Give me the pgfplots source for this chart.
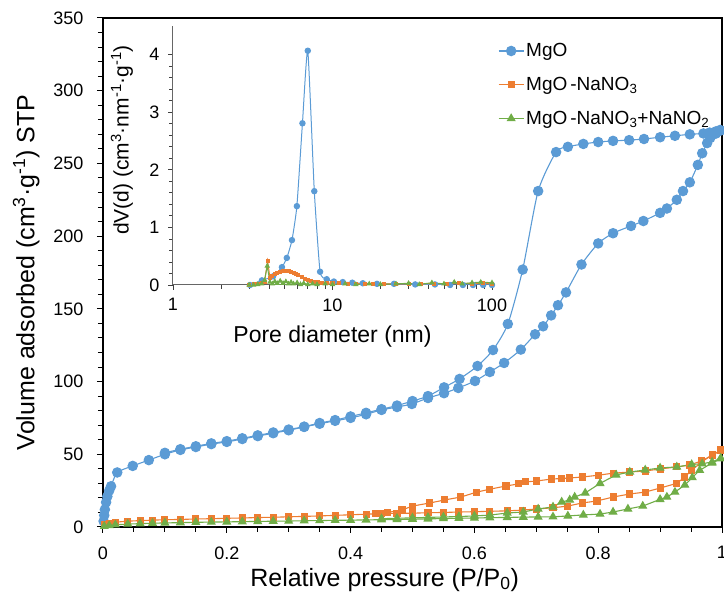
\documentclass[border=0pt]{standalone}
\usepackage{fontspec}
\setmainfont{Liberation Sans}
\usepackage{pgfplots}
\pgfplotsset{compat=1.18}
\definecolor{cblue}{HTML}{5B9BD5}
\definecolor{corange}{HTML}{ED7D31}
\definecolor{cgreen}{HTML}{70AD47}
\begin{document}
\begin{tikzpicture}
\path[use as bounding box] (-103pt,-67pt) rectangle (621pt,527pt);
\begin{axis}[
  at={(0pt,0pt)}, anchor=south west,
  width=619pt, height=509pt, scale only axis,
  xmin=0, xmax=1, ymin=0, ymax=350,
  xtick={0,0.2,0.4,0.6,0.8,1}, xticklabels={0,0.2,0.4,0.6,0.8,1},
  ytick={0,50,100,150,200,250,300,350},
  minor x tick num=3, minor y tick num=4,
  tick align=outside, xtick pos=bottom, ytick pos=left,
  major tick length=6pt, minor tick length=5pt,
  every tick/.style={black, line width=1pt},
  axis line style={line width=1.6pt, black},
  /pgf/number format/assume math mode=true,
  tick label style={font=\fontsize{18}{20}\selectfont},
  xticklabel style={yshift=-10pt},
  yticklabel style={xshift=-10pt},
  xlabel={Relative pressure (P/P\textsubscript{0})},
  xlabel style={font=\fontsize{25}{28}\selectfont, at={(axis description cs:0.455,-0.116)}, anchor=base},
  ylabel={Volume adsorbed (cm\textsuperscript{3}·g\textsuperscript{-1}) STP},
  ylabel style={font=\fontsize{25}{28}\selectfont, at={(axis description cs:-0.124,0.5)}, anchor=center},
  legend style={at={(axis description cs:0.638,0.954)}, anchor=north west, draw=none, fill=none,
    font=\fontsize{19}{22}\selectfont, row sep=15pt, inner sep=0pt},
  legend cell align=left,
  legend image code/.code={\draw[#1, mark repeat=2, mark phase=2] plot coordinates {(0pt,0pt) (12.5pt,0pt) (25pt,0pt)};},
]
% MgO adsorption
\addplot[cblue, line width=1.1pt, smooth, tension=0.4, mark=*, mark size=4.7pt, mark options={solid, fill=cblue, draw=cblue}] coordinates {
(0.001,4)(0.002,8)(0.003,12)(0.005,17)(0.007,21)(0.01,25)(0.013,28)(0.023,37.5)(0.048,42)(0.074,46)(0.1,50)(0.125,53)(0.15,55)(0.175,57)(0.2,58.5)(0.225,60.5)(0.25,62.5)(0.275,64.5)(0.3,66.5)(0.325,68.8)(0.35,71)(0.375,73)(0.4,75)(0.425,77.5)(0.45,80.5)(0.475,82.5)(0.499,84.6)(0.525,88.7)(0.551,92)(0.574,95.6)(0.601,100.4)(0.625,106.6)(0.648,112.8)(0.675,122)(0.698,132.5)(0.711,138)(0.724,145.5)(0.735,152.5)(0.748,161.3)(0.773,180.5)(0.80,195)(0.824,202)(0.853,207)(0.873,210.4)(0.9,216)(0.911,219)(0.927,225)(0.937,231)(0.948,237)(0.961,249)(0.968,257)(0.976,264)(0.981,267.5)(0.99,270.5)(0.997,272.5)
};
\addlegendentry{MgO}
% MgO-NaNO3 adsorption
\addplot[corange, line width=1.1pt, mark=square*, mark size=3pt, mark options={solid, fill=corange, draw=corange}] coordinates {
(0.002,1.5)(0.01,2.5)(0.02,3.3)(0.04,4.0)(0.06,4.4)(0.08,4.7)(0.1,5.0)(0.125,5.2)(0.15,5.5)(0.175,5.7)(0.2,6.0)(0.225,6.2)(0.25,6.5)(0.275,6.7)(0.3,7.0)(0.325,7.3)(0.35,7.6)(0.375,8.0)(0.4,8.4)(0.425,8.8)(0.45,9.2)(0.475,9.4)(0.5,9.5)(0.525,9.8)(0.55,10)(0.575,10.3)(0.6,10.5)(0.625,10.8)(0.653,11.1)(0.677,11.6)(0.701,12.4)(0.727,13.2)(0.751,14.4)(0.774,16.5)(0.798,17.9)(0.824,20.6)(0.851,22.7)(0.876,24)(0.9,26.8)(0.927,30)(0.94,34.4)(0.951,39)(0.967,44.7)(0.984,49.5)(0.998,52.5)
};
\addlegendentry{MgO\hspace{3pt}-NaNO\textsubscript{3}}
% MgO-NaNO3+NaNO2 adsorption
\addplot[cgreen, line width=1.1pt, mark=triangle*, mark size=4.2pt, mark options={solid, fill=cgreen, draw=cgreen}] coordinates {
(0.002,0.5)(0.01,1.0)(0.02,1.5)(0.04,2.0)(0.06,2.3)(0.08,2.6)(0.1,2.8)(0.125,3.0)(0.15,3.2)(0.175,3.4)(0.2,3.5)(0.225,3.7)(0.25,3.8)(0.275,4.0)(0.3,4.1)(0.325,4.3)(0.35,4.4)(0.375,4.6)(0.4,4.7)(0.425,4.9)(0.45,5.0)(0.475,5.2)(0.5,5.4)(0.525,5.6)(0.55,5.8)(0.575,6.0)(0.6,6.2)(0.625,6.4)(0.653,6.6)(0.679,6.8)(0.703,6.9)(0.727,7.0)(0.751,7.6)(0.776,8.3)(0.803,8.9)(0.824,10.3)(0.848,12.4)(0.872,14.4)(0.9,19)(0.911,20.6)(0.924,24)(0.94,28.9)(0.952,34)(0.964,39)(0.984,44)(0.998,47)
};
\addlegendentry{MgO\hspace{3pt}-NaNO\textsubscript{3}+NaNO\textsubscript{2}}
% desorption branches
\addplot[forget plot, cblue, line width=1.1pt, smooth, tension=0.4, mark=*, mark size=4.7pt, mark options={solid, fill=cblue, draw=cblue}] coordinates {
(0.997,273)(0.99,272)(0.98,271.2)(0.97,270.6)(0.948,270)(0.924,269)(0.9,268)(0.874,266.8)(0.85,266)(0.824,265.5)(0.80,264.7)(0.776,263.4)(0.751,261.4)(0.732,257.8)(0.703,231)(0.678,177)(0.654,139.6)(0.63,121.7)(0.605,110.7)(0.576,101.8)(0.551,96)(0.525,90)(0.50,86.6)(0.475,83.5)(0.45,81)(0.425,78.5)(0.4,76)(0.375,73.5)(0.35,71.5)(0.325,69)(0.3,67)(0.275,65)(0.25,63)(0.225,61)(0.2,59)(0.175,57.5)(0.15,55.5)(0.125,53.5)(0.1,51)
};
\addplot[forget plot, corange, line width=1.1pt, mark=square*, mark size=3pt, mark options={solid, fill=corange, draw=corange}] coordinates {
(0.998,53)(0.985,49.5)(0.967,45.5)(0.948,42.6)(0.927,41.3)(0.9,39.9)(0.876,38.5)(0.851,37.8)(0.824,37)(0.8,35.6)(0.775,34.4)(0.754,33.7)(0.74,33.3)(0.725,33)(0.70,31.6)(0.683,31)(0.671,29.6)(0.651,28.2)(0.625,26)(0.604,24)(0.578,20.6)(0.552,18.6)(0.528,16.5)(0.50,14.4)(0.483,11.7)(0.46,10)(0.44,9.3)
};
\addplot[forget plot, cgreen, line width=1.1pt, mark=triangle*, mark size=4.2pt, mark options={solid, fill=cgreen, draw=cgreen}] coordinates {
(0.998,47.4)(0.984,44.7)(0.968,43.5)(0.951,43)(0.927,41.3)(0.9,40.6)(0.876,39.2)(0.851,37.8)(0.829,35.8)(0.803,30)(0.779,23.4)(0.762,20.6)(0.754,18.6)(0.741,17.2)(0.727,13.8)(0.703,12.4)(0.679,10.3)(0.653,9.6)(0.625,8.2)(0.6,7.6)(0.575,7.2)(0.55,6.9)(0.525,6.6)(0.5,6.3)(0.475,6.0)(0.45,5.7)
};
\end{axis}
% inset
\begin{axis}[
  at={(70pt,242pt)}, anchor=south west,
  width=319pt, height=259pt, scale only axis,
  xmode=log, xmin=1, xmax=100, ymin=0, ymax=4.5,
  axis x line=bottom, axis y line=left,
  axis line style={-, line width=1pt, black!60},
  xtick={1,10,100}, xticklabels={1,10,100},
  ytick={0,1,2,3,4}, minor y tick num=4,
  tick align=outside,
  major tick length=5pt, minor tick length=4pt,
  every tick/.style={black!75, line width=0.9pt},
  /pgf/number format/assume math mode=true,
  tick label style={font=\fontsize{18}{20}\selectfont},
  xticklabel style={yshift=-5pt},
  yticklabel style={xshift=-5pt},
  xlabel={Pore diameter (nm)},
  xlabel style={font=\fontsize{23}{26}\selectfont, at={(axis description cs:0.5,-0.2)}, anchor=center},
  ylabel={dV(d) (cm\textsuperscript{3}·nm\textsuperscript{-1}·g\textsuperscript{-1})},
  ylabel style={font=\fontsize{21}{24}\selectfont, at={(axis description cs:-0.160,0.56)}, anchor=center},
]
\addplot[cblue, line width=1pt, smooth, tension=0.3, mark=*, mark size=2.7pt, mark options={solid, fill=cblue, draw=cblue}] coordinates {
(3.04,0)(3.61,0.08)(4.24,0.15)(4.82,0.31)(5.17,0.47)(5.57,0.78)(5.98,1.37)(6.48,2.81)(7.0,4.07)(7.69,1.63)(8.36,0.23)(9.2,0.1)(10.2,0.06)(11.6,0.05)(13.3,0.04)(15.5,0.03)(19,0.02)(24.3,0.02)(33,0.01)(43.9,0.01)(54.6,0.0)(65.7,0)(76,0)(88,0)(100,0)
};
\addplot[corange, line width=1pt, mark=square*, mark size=1.5pt, mark options={solid, fill=corange, draw=corange}] coordinates {
(3.0,0)(3.2,0.01)(3.4,0.02)(3.6,0.03)(3.75,0.06)(3.92,0.42)(4.05,0.13)(4.2,0.16)(4.35,0.19)(4.5,0.21)(4.7,0.23)(4.9,0.24)(5.1,0.245)(5.3,0.24)(5.5,0.23)(5.7,0.21)(5.9,0.19)(6.1,0.17)(6.4,0.14)(6.7,0.11)(7.0,0.09)(7.3,0.07)(7.7,0.06)(8.1,0.05)(8.6,0.04)(9.2,0.035)(10,0.03)(11,0.03)(12.5,0.025)(14,0.025)(16,0.02)(18,0.02)(21,0.02)(25,0.02)(30,0.02)(36,0.02)(43,0.025)(52,0.025)(62,0.03)(75,0.025)(88,0.03)(100,0.02)
};
\addplot[cgreen, line width=1pt, mark=triangle*, mark size=2.2pt, mark options={solid, fill=cgreen, draw=cgreen}] coordinates {
(3.0,0)(3.2,0.0)(3.4,0.01)(3.6,0.02)(3.75,0.08)(3.9,0.33)(4.05,0.05)(4.2,0.02)(4.35,0.06)(4.5,0.03)(4.7,0.07)(4.9,0.03)(5.1,0.06)(5.3,0.02)(5.5,0.05)(5.7,0.02)(6.0,0.04)(6.3,0.01)(6.6,0.03)(7.0,0.01)(7.5,0.02)(8,0.01)(9,0.02)(10,0.01)(12,0.02)(14,0.01)(17,0.02)(20,0.01)(25,0.02)(30,0.03)(35,0.01)(42,0.04)(50,0.02)(58,0.05)(65,0.02)(75,0.04)(85,0.05)(100,0.04)
};
\end{axis}
\end{tikzpicture}
\end{document}
